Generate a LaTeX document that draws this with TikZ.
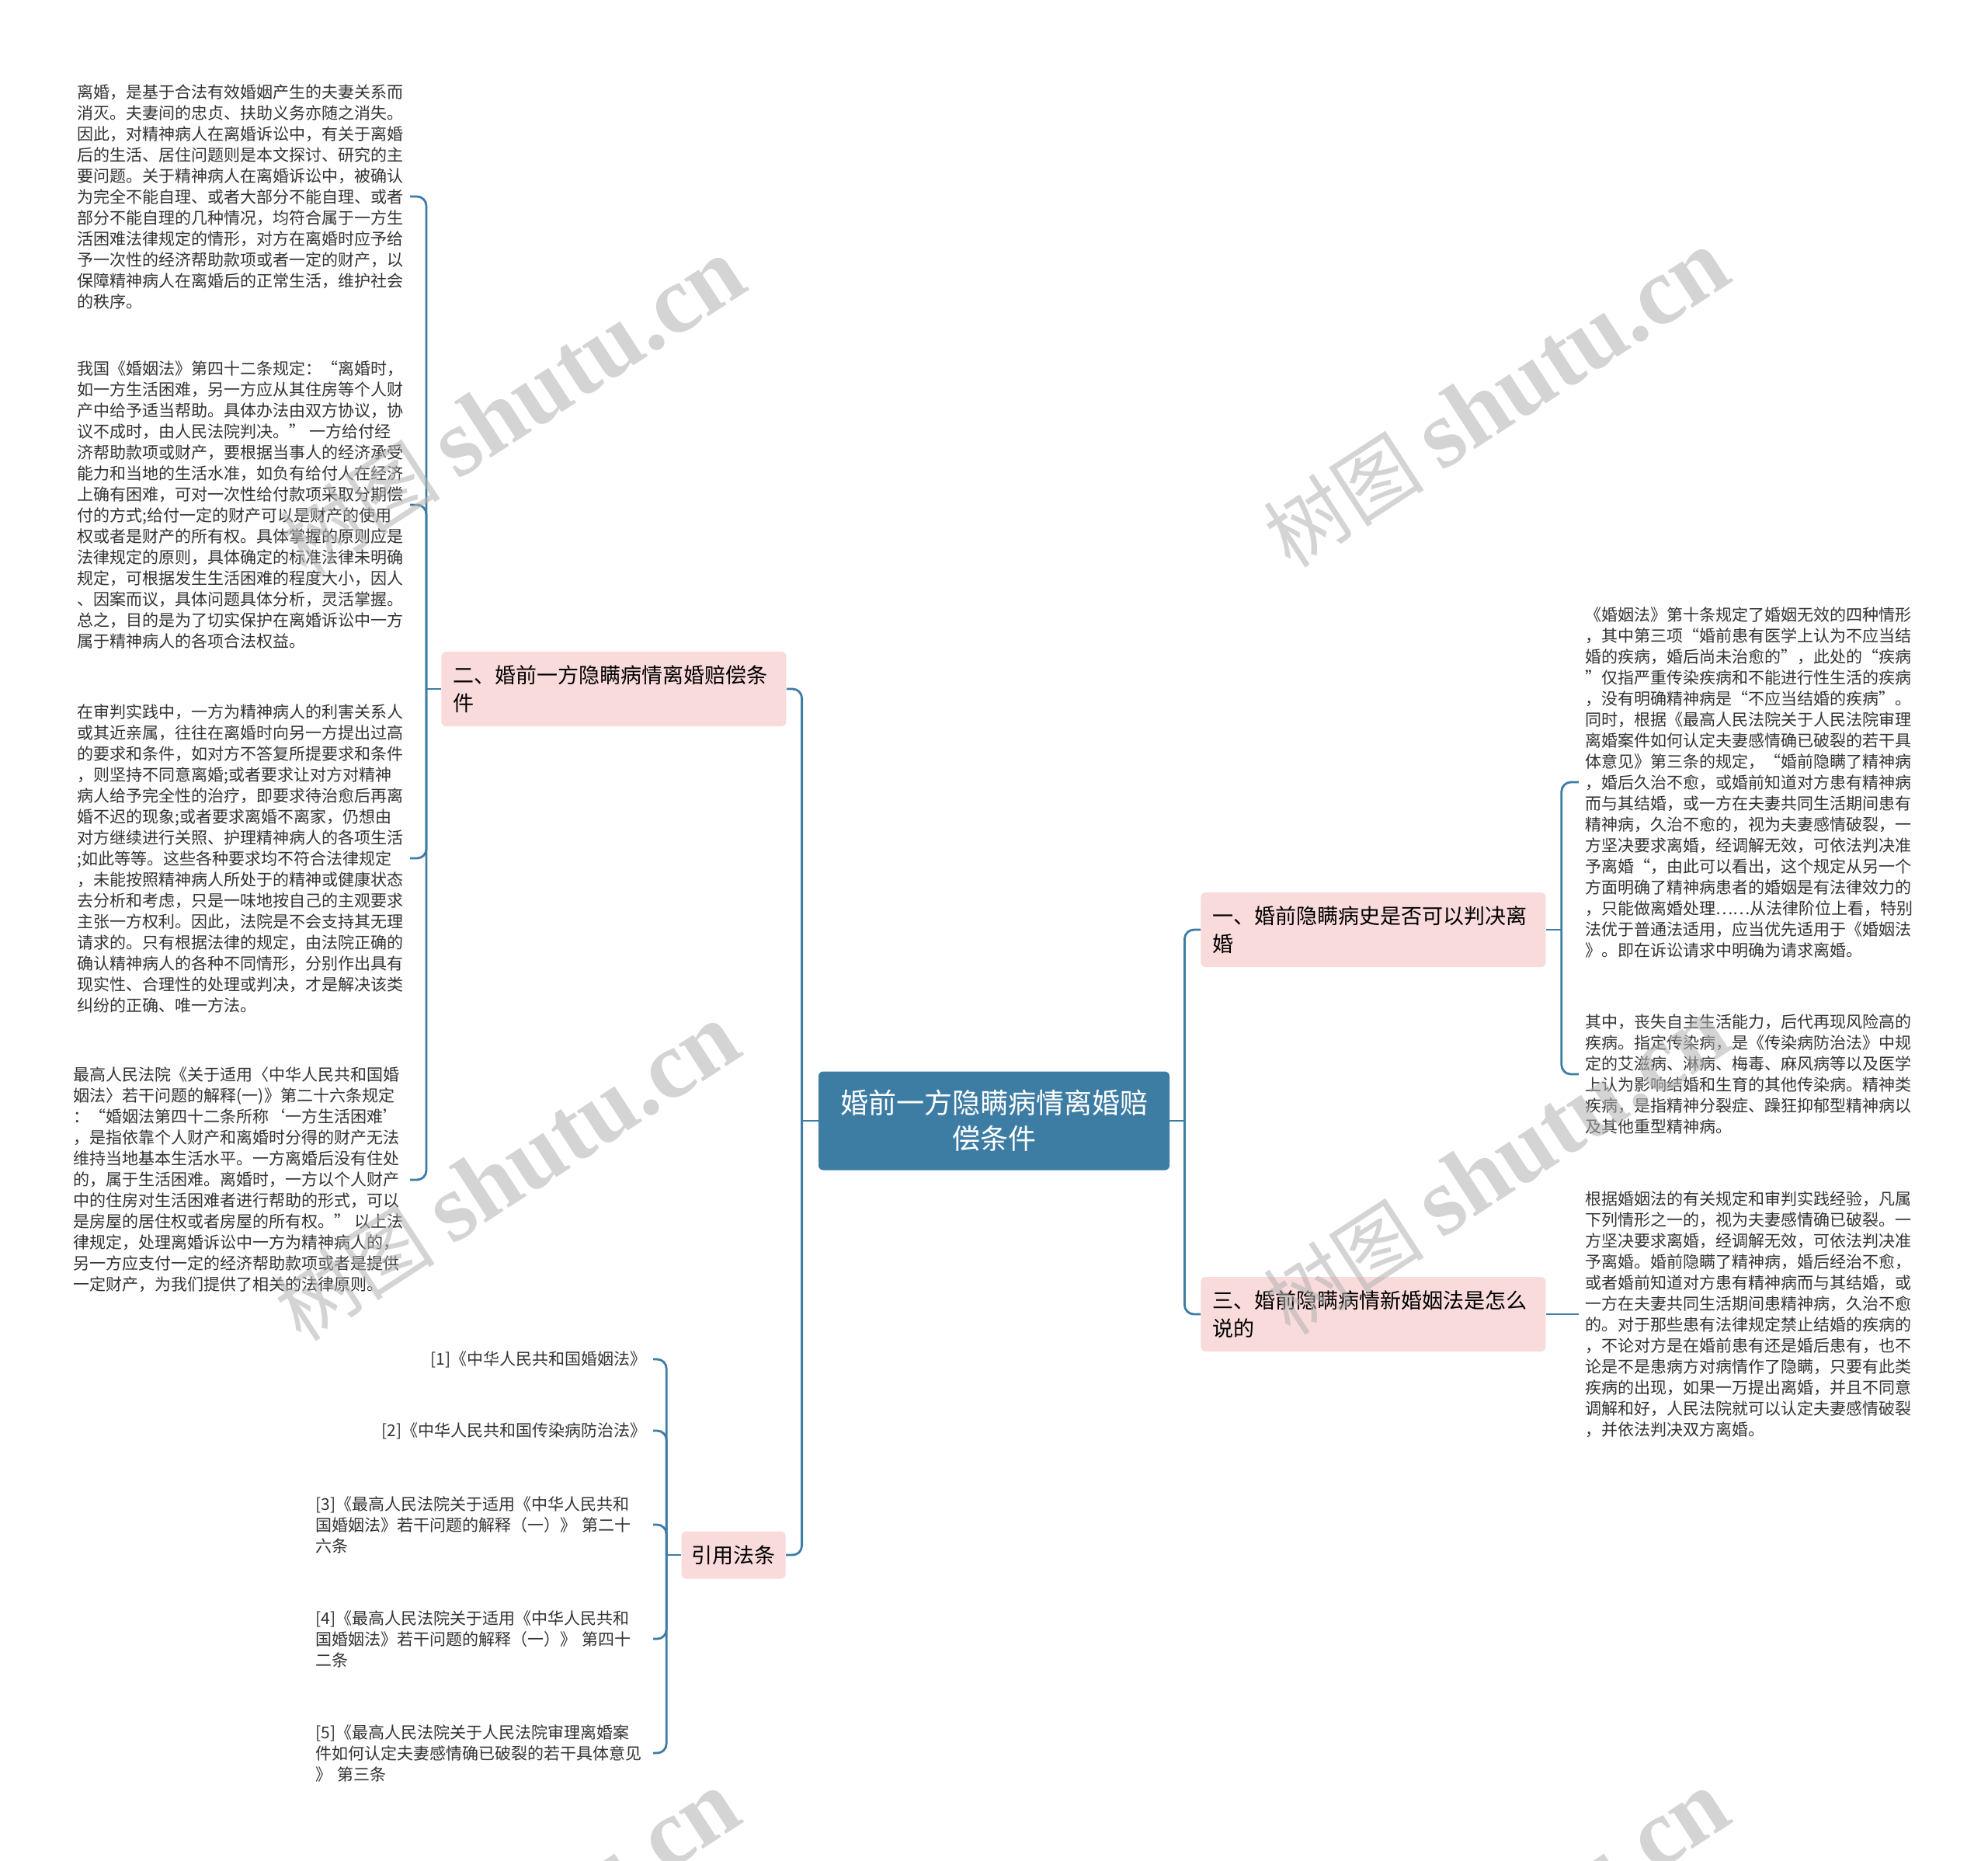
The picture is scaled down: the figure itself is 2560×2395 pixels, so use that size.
\documentclass[tikz,border=0pt]{standalone}
\usepackage{fontspec}
\setmainfont{Noto Sans CJK SC}
\newfontfamily\wmlatin{Liberation Serif}
\definecolor{trunk}{HTML}{3D7CA3}
\definecolor{petal}{HTML}{FADBDB}
\definecolor{ink}{HTML}{333333}
\begin{document}
\begin{tikzpicture}[x=0.5pt,y=-0.5pt,
    wire/.style={draw=trunk,line width=1.4pt,rounded corners=6pt},
    corebox/.style={fill=trunk,text=white,rounded corners=3pt,font=\fontsize{18}{23}\selectfont,
      align=center,text width=200pt,inner xsep=13pt,minimum height=63.5pt},
    armbox/.style={fill=petal,text=black,rounded corners=3pt,font=\fontsize{13.5}{18}\selectfont,
      align=left,inner xsep=7.5pt,minimum height=48pt},
    notebox/.style={text=ink,font=\fontsize{10.5}{13.5}\selectfont,align=left,inner xsep=4pt,inner ysep=0pt},
    wmark/.style={text=gray!60,text opacity=0.55,rotate=33,font=\fontsize{52}{52}\selectfont}]
  \useasboundingbox (0,0) rectangle (2560,2395);
  \clip (0,0) rectangle (2560,2395);
  \fill[white] (0,0) rectangle (2560,2395);

  % centre and branches
  \node[corebox] (core) at (1280,1443) {婚前一方隐瞒病情离婚赔\\偿条件};
  \node[armbox,anchor=west,text width=207pt] (b2) at (568,887) {二、婚前一方隐瞒病情离婚赔偿条\\件};
  \node[armbox,anchor=east,minimum height=30.5pt,inner xsep=6.5pt] (b4) at (1012,2002) {引用法条};
  \node[armbox,anchor=west,text width=207pt] (b1) at (1546,1197) {一、婚前隐瞒病史是否可以判决离\\婚};
  \node[armbox,anchor=west,text width=207pt] (b3) at (1546,1692) {三、婚前隐瞒病情新婚姻法是怎么\\说的};

  % left notes
  \node[notebox,anchor=east] (l1) at (528,253) {离婚，是基于合法有效婚姻产生的夫妻关系而\\消灭。夫妻间的忠贞、扶助义务亦随之消失。\\因此，对精神病人在离婚诉讼中，有关于离婚\\后的生活、居住问题则是本文探讨、研究的主\\要问题。关于精神病人在离婚诉讼中，被确认\\为完全不能自理、或者大部分不能自理、或者\\部分不能自理的几种情况，均符合属于一方生\\活困难法律规定的情形，对方在离婚时应予给\\予一次性的经济帮助款项或者一定的财产，以\\保障精神病人在离婚后的正常生活，维护社会\\的秩序。};
  \node[notebox,anchor=east] (l2) at (528,650) {我国《婚姻法》第四十二条规定：“离婚时，\\如一方生活困难，另一方应从其住房等个人财\\产中给予适当帮助。具体办法由双方协议，协\\议不成时，由人民法院判决。” 一方给付经\\济帮助款项或财产，要根据当事人的经济承受\\能力和当地的生活水准，如负有给付人在经济\\上确有困难，可对一次性给付款项采取分期偿\\付的方式;给付一定的财产可以是财产的使用\\权或者是财产的所有权。具体掌握的原则应是\\法律规定的原则，具体确定的标准法律未明确\\规定，可根据发生生活困难的程度大小，因人\\、因案而议，具体问题具体分析，灵活掌握。\\总之，目的是为了切实保护在离婚诉讼中一方\\属于精神病人的各项合法权益。};
  \node[notebox,anchor=east] (l3) at (528,1105) {在审判实践中，一方为精神病人的利害关系人\\或其近亲属，往往在离婚时向另一方提出过高\\的要求和条件，如对方不答复所提要求和条件\\，则坚持不同意离婚;或者要求让对方对精神\\病人给予完全性的治疗，即要求待治愈后再离\\婚不迟的现象;或者要求离婚不离家，仍想由\\对方继续进行关照、护理精神病人的各项生活\\;如此等等。这些各种要求均不符合法律规定\\，未能按照精神病人所处于的精神或健康状态\\去分析和考虑，只是一味地按自己的主观要求\\主张一方权利。因此，法院是不会支持其无理\\请求的。只有根据法律的规定，由法院正确的\\确认精神病人的各种不同情形，分别作出具有\\现实性、合理性的处理或判决，才是解决该类\\纠纷的正确、唯一方法。};
  \node[notebox,anchor=east] (l4) at (528,1519) {最高人民法院《关于适用〈中华人民共和国婚\\姻法〉若干问题的解释(一)》第二十六条规定\\：“婚姻法第四十二条所称‘一方生活困难’\\，是指依靠个人财产和离婚时分得的财产无法\\维持当地基本生活水平。一方离婚后没有住处\\的，属于生活困难。离婚时，一方以个人财产\\中的住房对生活困难者进行帮助的形式，可以\\是房屋的居住权或者房屋的所有权。” 以上法\\律规定，处理离婚诉讼中一方为精神病人的，\\另一方应支付一定的经济帮助款项或者是提供\\一定财产，为我们提供了相关的法律原则。};

  % references
  \node[notebox,anchor=east] (f1) at (841,1750) {[1]《中华人民共和国婚姻法》};
  \node[notebox,anchor=east] (f2) at (841,1842) {[2]《中华人民共和国传染病防治法》};
  \node[notebox,anchor=east,text width=213pt] (f3) at (841,1963) {[3]《最高人民法院关于适用《中华人民共和\\国婚姻法》若干问题的解释（一）》 第二十\\六条};
  \node[notebox,anchor=east,text width=213pt] (f4) at (841,2110) {[4]《最高人民法院关于适用《中华人民共和\\国婚姻法》若干问题的解释（一）》 第四十\\二条};
  \node[notebox,anchor=east,text width=213pt] (f5) at (841,2257) {[5]《最高人民法院关于人民法院审理离婚案\\件如何认定夫妻感情确已破裂的若干具体意见\\》 第三条};

  % right notes
  \node[notebox,anchor=west] (r1) at (2033,1007) {《婚姻法》第十条规定了婚姻无效的四种情形\\，其中第三项“婚前患有医学上认为不应当结\\婚的疾病，婚后尚未治愈的”，此处的“疾病\\”仅指严重传染疾病和不能进行性生活的疾病\\，没有明确精神病是“不应当结婚的疾病”。\\同时，根据《最高人民法院关于人民法院审理\\离婚案件如何认定夫妻感情确已破裂的若干具\\体意见》第三条的规定，“婚前隐瞒了精神病\\，婚后久治不愈，或婚前知道对方患有精神病\\而与其结婚，或一方在夫妻共同生活期间患有\\精神病，久治不愈的，视为夫妻感情破裂，一\\方坚决要求离婚，经调解无效，可依法判决准\\予离婚“，由此可以看出，这个规定从另一个\\方面明确了精神病患者的婚姻是有法律效力的\\，只能做离婚处理……从法律阶位上看，特别\\法优于普通法适用，应当优先适用于《婚姻法\\》。即在诉讼请求中明确为请求离婚。};
  \node[notebox,anchor=west] (r2) at (2033,1383) {其中，丧失自主生活能力，后代再现风险高的\\疾病。指定传染病，是《传染病防治法》中规\\定的艾滋病、淋病、梅毒、麻风病等以及医学\\上认为影响结婚和生育的其他传染病。精神类\\疾病，是指精神分裂症、躁狂抑郁型精神病以\\及其他重型精神病。};
  \node[notebox,anchor=west] (r3) at (2033,1692) {根据婚姻法的有关规定和审判实践经验，凡属\\下列情形之一的，视为夫妻感情确已破裂。一\\方坚决要求离婚，经调解无效，可依法判决准\\予离婚。婚前隐瞒了精神病，婚后经治不愈，\\或者婚前知道对方患有精神病而与其结婚，或\\一方在夫妻共同生活期间患精神病，久治不愈\\的。对于那些患有法律规定禁止结婚的疾病的\\，不论对方是在婚前患有还是婚后患有，也不\\论是不是患病方对病情作了隐瞒，只要有此类\\疾病的出现，如果一万提出离婚，并且不同意\\调解和好，人民法院就可以认定夫妻感情破裂\\，并依法判决双方离婚。};

  % connectors
  \draw[wire] (core.west) -- ++(-21,0) coordinate (lj);
  \draw[wire] (lj) |- (b2.east);
  \draw[wire] (lj) |- (b4.east);
  \draw[wire] (core.east) -- ++(19,0) coordinate (rj);
  \draw[wire] (rj) |- (b1.west);
  \draw[wire] (rj) |- (b3.west);
  \draw[wire] (b2.west) -- ++(-19,0) coordinate (aj);
  \draw[wire] (aj) |- (l1.east);
  \draw[wire] (aj) |- (l2.east);
  \draw[wire] (aj) |- (l3.east);
  \draw[wire] (aj) |- (l4.east);
  \draw[wire] (b4.west) -- ++(-19,0) coordinate (dj);
  \draw[wire] (dj) |- (f1.east);
  \draw[wire] (dj) |- (f2.east);
  \draw[wire] (dj) |- (f3.east);
  \draw[wire] (dj) |- (f4.east);
  \draw[wire] (dj) |- (f5.east);
  \draw[wire] (b1.east) -- ++(20,0) coordinate (cj);
  \draw[wire] (cj) |- (r1.west);
  \draw[wire] (cj) |- (r2.west);
  \draw[wire] (b3.east) -- (r3.west);

  % watermarks
  \foreach \wx/\wy [count=\k] in {660/525,1927/514,653/1510,1927/1502,653/2498,1927/2498}
    \node[wmark] (wm\k) at (\wx,\wy) {树图 {\wmlatin\bfseries\fontsize{62}{62}\selectfont shutu.cn}};
\end{tikzpicture}
\end{document}
